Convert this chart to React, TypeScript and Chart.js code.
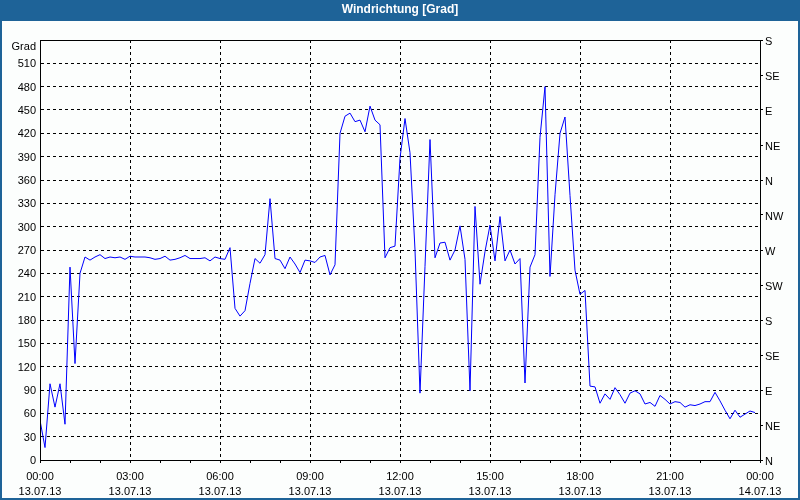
import React, { useEffect, useRef } from 'react';
import { Chart, registerables } from 'chart.js';

Chart.register(...registerables);

const TITLE = 'Windrichtung [Grad]';
const Y_UNIT = 'Grad';

// wind direction in degrees, one sample every 10 minutes from 13.07.13 00:00
const directionValues = [
  51, 16, 98, 68, 98, 46, 248, 124, 240, 261,
  257, 261, 264, 259, 261, 260, 261, 258, 262, 261,
  261, 261, 260, 258, 259, 262, 257, 258, 260, 263,
  259, 259, 259, 260, 256, 261, 259, 258, 273, 195,
  185, 192, 227, 259, 253, 264, 336, 259, 257, 246,
  261, 252, 241, 257, 256, 254, 261, 263, 238, 251,
  420, 442, 446, 435, 437, 422, 455, 437, 431, 260,
  273, 275, 388, 439, 395, 270, 86, 249, 412, 260,
  279, 280, 257, 270, 301, 258, 89, 326, 226, 268,
  302, 256, 313, 256, 270, 252, 259, 99, 248, 264,
  415, 480, 236, 341, 420, 441, 340, 244, 213, 218,
  95, 94, 73, 85, 78, 93, 84, 73, 86, 89,
  85, 72, 74, 69, 83, 78, 72, 75, 74, 68,
  71, 70, 72, 75, 75, 87, 76, 64, 53, 64,
  55, 59, 63, 61,
];
const SAMPLE_STEP_MIN = 10;
const sampleMinutes = directionValues.map((_, i) => i * SAMPLE_STEP_MIN);

const xTickTimes = ['00:00', '03:00', '06:00', '09:00', '12:00', '15:00', '18:00', '21:00', '00:00'];
const xTickDates = ['13.07.13', '13.07.13', '13.07.13', '13.07.13', '13.07.13', '13.07.13', '13.07.13', '13.07.13', '14.07.13'];
const compassLabels = ['N', 'NE', 'E', 'SE', 'S', 'SW', 'W', 'NW', 'N', 'NE', 'E', 'SE', 'S'];

const FONT = "'Liberation Sans', Arial, sans-serif";
const BLUE = '#1e6398';

export default function App() {
  const ref = useRef<HTMLCanvasElement>(null);

  useEffect(() => {
    if (!ref.current) return;
    Chart.defaults.font.family = FONT;
    Chart.defaults.font.size = 11;
    Chart.defaults.color = '#000';

    const framePlugin = {
      id: 'frame',
      beforeDraw(chart: any) {
        const { ctx, width, height } = chart;
        ctx.save();
        ctx.fillStyle = '#fcfefd';
        ctx.fillRect(0, 0, width, height);
        ctx.fillStyle = BLUE;
        ctx.fillRect(0, 0, width, 21);
        ctx.strokeStyle = BLUE;
        ctx.lineWidth = 2;
        ctx.strokeRect(1, 1, width - 2, height - 2);
        ctx.fillStyle = '#ffffff';
        ctx.font = `bold 12px ${FONT}`;
        ctx.textAlign = 'center';
        ctx.textBaseline = 'middle';
        ctx.fillText(TITLE, width / 2, 10);
        ctx.restore();
      },
      afterDraw(chart: any) {
        const { ctx, chartArea } = chart;
        const l = Math.round(chartArea.left) + 0.5;
        const t = Math.round(chartArea.top) + 0.5;
        const r = Math.round(chartArea.right) + 0.5;
        const b = Math.round(chartArea.bottom) + 0.5;
        ctx.save();
        ctx.setLineDash([]);
        ctx.strokeStyle = '#000';
        ctx.lineWidth = 1;
        ctx.strokeRect(l, t, r - l, b - t);
        ctx.restore();
      },
    };

    const chart = new Chart(ref.current, {
      type: 'line',
      data: {
        datasets: [
          {
            data: directionValues.map((v, i) => ({ x: sampleMinutes[i], y: v })),
            borderColor: '#0000ff',
            borderWidth: 1,
            pointRadius: 0,
            tension: 0,
            fill: false,
            yAxisID: 'y',
          },
        ],
      },
      options: {
        responsive: false,
        animation: false,
        devicePixelRatio: 1,
        layout: { padding: { top: 40, left: 0, right: 0, bottom: 0 } },
        plugins: {
          legend: { display: false },
          tooltip: { enabled: false },
          title: { display: false },
        },
        scales: {
          x: {
            type: 'linear',
            min: 0,
            max: 1440,
            afterFit: (s: any) => { s.height = 40; },
            ticks: {
              stepSize: 60,
              autoSkip: false,
              maxRotation: 0,
              padding: 6,
              font: { size: 11, family: FONT, lineHeight: 1.4 },
              callback: (v: any) => {
                const n = Number(v);
                if (n % 180 !== 0) return '';
                const idx = n / 180;
                return [xTickTimes[idx], xTickDates[idx]];
              },
            },
            grid: {
              color: (c: any) => (c.tick && c.tick.value % 180 === 0 ? '#000' : 'rgba(0,0,0,0)'),
              tickColor: '#000',
              lineWidth: 1,
              drawTicks: true,
              tickLength: 3,
            },
            border: { display: true, color: '#000', width: 1, dash: [3, 3] },
          },
          y: {
            type: 'linear',
            position: 'left',
            min: 0,
            max: 540,
            afterFit: (s: any) => { s.width = 40; },
            ticks: {
              stepSize: 30,
              autoSkip: false,
              padding: 4,
              labelOffset: 1,
              font: { size: 11, family: FONT, lineHeight: 1.0 },
              callback: (v: any) => (Number(v) === 540 ? ['', Y_UNIT] : String(v)),
            },
            grid: { color: '#000', lineWidth: 1, drawTicks: false },
            border: { display: true, color: '#000', width: 1, dash: [3, 3] },
          },
          y2: {
            type: 'linear',
            position: 'right',
            min: 0,
            max: 540,
            afterFit: (s: any) => { s.width = 40; },
            ticks: {
              stepSize: 45,
              autoSkip: false,
              padding: 2,
              labelOffset: 2,
              font: { size: 11, family: FONT },
              callback: (v: any) => compassLabels[Math.round(Number(v) / 45)] ?? '',
            },
            grid: { drawOnChartArea: false, color: '#000', tickColor: '#000', drawTicks: true, tickLength: 3 },
            border: { display: true, color: '#000', width: 1 },
          },
        },
      },
      plugins: [framePlugin],
    } as any);

    return () => chart.destroy();
  }, []);

  return (
    <div style={{ position: 'absolute', left: 0, top: 0, width: 800, height: 500 }}>
      <canvas ref={ref} width={800} height={500} style={{ display: 'block', width: 800, height: 500 }} />
    </div>
  );
}
